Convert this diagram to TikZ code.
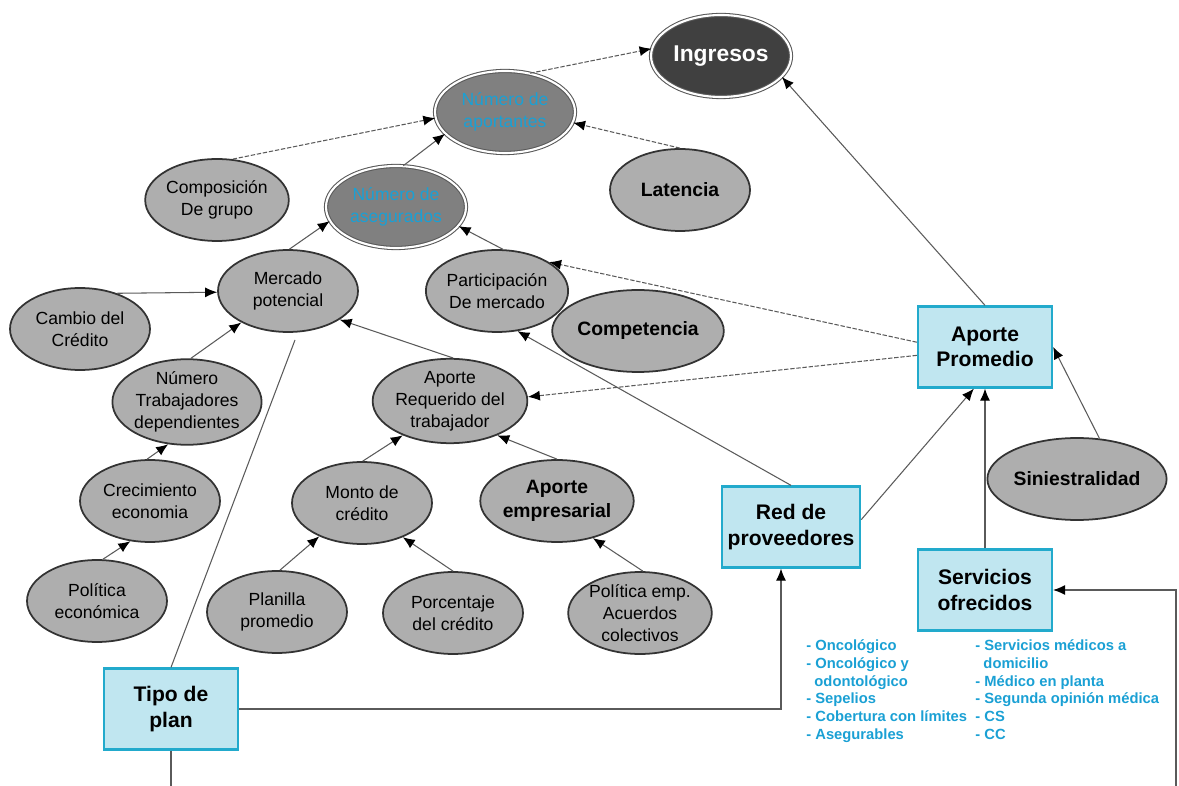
\documentclass[tikz,border=0pt]{standalone}
\usepackage{fontspec}
\setmainfont{Liberation Sans}
\usetikzlibrary{shapes.geometric,arrows.meta,calc}

\definecolor{grisclaro}{RGB}{174,174,174}
\definecolor{grismedio}{RGB}{128,128,128}
\definecolor{grisoscuro}{RGB}{64,64,64}
\definecolor{celeste}{RGB}{192,230,240}
\definecolor{bordeceleste}{RGB}{34,170,204}
\definecolor{textoceleste}{RGB}{26,160,212}
\definecolor{linea}{RGB}{90,90,90}

\begin{document}
\begin{tikzpicture}[
        % Un'unita = un pixel dell'immagine (asse y verso il basso)
        x={(0.02cm,0cm)}, y={(0cm,-0.02cm)},
        % Stili dei nodi (factores) e delle linee
        factor/.style={ellipse, draw=black!80, line width=1pt, fill=grisclaro,
            minimum width=2.8cm, minimum height=1.64cm, inner sep=0pt, align=center,
            font=\fontsize{10}{12.5}\selectfont},
        factor_b/.style={factor, font=\fontsize{11}{13.5}\selectfont\bfseries},
        key_factor/.style={factor, fill=grismedio, draw=black!65, double=white,
            double distance=1.2pt, line width=0.6pt, text=textoceleste},
        out_factor/.style={key_factor, fill=grisoscuro, text=white,
            font=\fontsize{13}{16}\selectfont\bfseries},
        box/.style={rectangle, draw=bordeceleste, line width=1.3pt, fill=celeste,
            minimum width=2.68cm, minimum height=1.62cm, align=center,
            font=\fontsize{12}{14.5}\selectfont\bfseries},
        link/.style={draw=linea, line width=0.6pt, -{Latex[length=2.4mm,width=2mm,color=black]}},
        dlink/.style={link, dash pattern=on 2.5pt off 1pt},
        tramo/.style={draw=linea, line width=0.6pt},
        lista/.style={anchor=north west, align=left, inner sep=0pt, text=textoceleste,
            font=\fontsize{8.4}{10.2}\selectfont\bfseries}
    ]
    \useasboundingbox (0,0) rectangle (1179,786);

    % ==============================
    % 1. RISULTATO E NUMERI
    % ==============================
    \node[out_factor] (ingresos) at (721,56) {Ingresos};
    \node[key_factor] (aportantes) at (505,112) {Número de\\aportantes};
    \node[key_factor] (asegurados) at (396,207) {Número de\\asegurados};

    % ==============================
    % 2. FATTORI (ellissi grigie)
    % ==============================
    \node[factor] (composicion) at (217,200) {Composición\\De grupo};
    \node[factor_b] (latencia) at (680,190) {Latencia};
    \node[factor] (mercado) at (288,291) {Mercado\\potencial};
    \node[factor] (participacion) at (497,291) {Participación\\De mercado};
    \node[factor_b] (competencia) at (638,331) {Competencia};
    \node[factor] (cambio) at (80,329) {Cambio del\\Crédito};
    \node[factor] (trabajadores) at (187,402) {Número\\Trabajadores\\dependientes};
    \node[factor] (crecimiento) at (150,501) {Crecimiento\\economia};
    \node[factor] (politica) at (97,601) {Política\\económica};
    \node[factor] (requerido) at (450,401) {Aporte\\Requerido del\\trabajador};
    \node[factor] (monto) at (362,503) {Monto de\\crédito};
    \node[factor_b] (empresarial) at (557,501) {Aporte\\empresarial};
    \node[factor] (planilla) at (277,612) {Planilla\\promedio};
    \node[factor] (porcentaje) at (453,613) {Porcentaje\\del crédito};
    \node[factor] (politicaemp) at (640,613) {Política emp.\\Acuerdos\\colectivos};
    \node[factor_b, minimum width=2.9cm] (siniestralidad) at (1077,479) {Siniestralidad};

    % ==============================
    % 3. DECISIONI (riquadri celesti)
    % ==============================
    \node[box] (promedio) at (985,347) {Aporte\\Promedio};
    \node[box] (red) at (791,527) {Red de\\proveedores};
    \node[box] (servicios) at (985,590) {Servicios\\ofrecidos};
    \node[box] (tipo) at (171,709) {Tipo de\\plan};

    % Elenchi sotto i servizi
    \node[lista] (coberturas) at (806,639) {- Oncológico\\- Oncológico y\\\hspace*{0.55em}odontológico\\- Sepelios\\- Cobertura con límites\\- Asegurables};
    \node[lista] (atenciones) at (975,639) {- Servicios médicos a\\\hspace*{0.55em}domicilio\\- Médico en planta\\- Segunda opinión médica\\- CS\\- CC};

    % Estremi liberi
    \coordinate (mercado_pie) at (295,340);
    \coordinate (tipo_pie) at (171,786);
    \coordinate (borde) at (1176,786);

    % ==============================
    % 4. CONNESSIONI
    % ==============================
    \draw[dlink] (aportantes.57) -- (ingresos.174);
    \draw[dlink] (composicion.69) -- (aportantes.185);
    \draw[dlink] (latencia.90) -- (aportantes.351);
    \draw[link] (asegurados.80) -- (aportantes.200);
    \draw[link] (mercado.88) -- (asegurados.192);
    \draw[link] (participacion.82) -- (asegurados.343);
    \draw[link] (cambio.44) -- (mercado.181);
    \draw[link] (trabajadores.85) -- (mercado.214);
    \draw[link] (crecimiento.94) -- (trabajadores.246);
    \draw[link] (politica.82) -- (crecimiento.244);
    \draw[link] (requerido.86) -- (mercado.331);
    \draw[link] (monto.89) -- (requerido.216);
    \draw[link] (empresarial.90) -- (requerido.324);
    \draw[link] (planilla.86) -- (monto.218);
    \draw[link] (porcentaje.90) -- (monto.320);
    \draw[link] (politicaemp.86) -- (empresarial.314);

    % Dall'aporte promedio
    \draw[link] (promedio.north) -- (ingresos.341);
    \draw[dlink] (promedio.176) -- (participacion.29);
    \draw[dlink] (promedio.187) -- (requerido.3);
    \draw[link] (red.north) -- (participacion.297);
    \draw[link] (red.6) -- (promedio.255);
    \draw[link] (servicios.north) -- (promedio.south);
    \draw[link] (siniestralidad.61) -- (promedio.east);

    % Tipo de plan
    \draw[tramo] (tipo.north) -- (mercado_pie);
    \draw[tramo] (tipo.south) -- (tipo_pie);
    \draw[link] (tipo.east) -| ($(red.south)+(-10,0)$);
    \draw[link] (borde) |- (servicios.east);

\end{tikzpicture}
\end{document}
